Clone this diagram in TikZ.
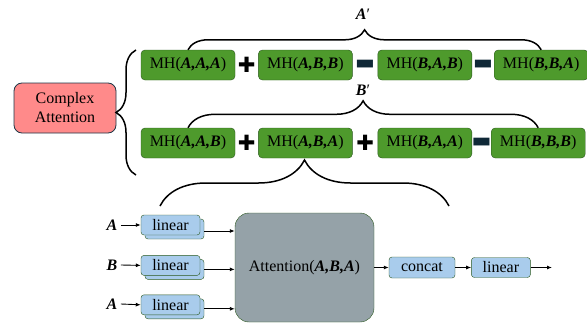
\documentclass[tikz,border=0pt]{standalone}
\usepackage{fontspec}
\setmainfont{Liberation Serif}
\newfontfamily\symfont{DejaVu Sans}
\usepackage{xcolor}
\usetikzlibrary{arrows.meta,positioning,calc,shadows,decorations.pathreplacing}

\definecolor{mhgreen}{RGB}{78,154,44}
\definecolor{mhdark}{RGB}{42,88,30}
\definecolor{linblue}{RGB}{169,204,236}
\definecolor{cplxpink}{RGB}{255,138,138}
\definecolor{cplxdark}{RGB}{30,55,70}
\definecolor{attgray}{RGB}{149,162,168}
\definecolor{minusnavy}{RGB}{15,40,55}

\newcommand{\bi}[1]{\textbf{\textit{#1}}}

\begin{document}
\begin{tikzpicture}[
    x=1pt, y=-1pt,
    >={Latex[length=5pt,width=4pt]},
    node distance=23pt,
    every node/.style={font=\fontsize{16}{19}\selectfont},
    mh/.style={rounded corners=4pt, draw=mhdark, fill=mhgreen, minimum width=94pt, minimum height=30pt, inner sep=0pt},
    linbox/.style={rounded corners=3pt, draw=mhdark, fill=linblue, minimum width=59pt, minimum height=20pt, inner sep=0pt},
    plusop/.style={font=\symfont\bfseries\fontsize{21}{21}\selectfont, inner sep=0pt},
    minusop/.style={font=\symfont\fontsize{21}{21}\selectfont, text=minusnavy, inner sep=0pt},
    brc/.style={decorate, line width=1.5pt},
    arr/.style={->, line width=0.9pt}
]
\useasboundingbox (0,0) rectangle (587,324);

% complex attention
\node[rounded corners=8pt, draw=cplxdark, thick, fill=cplxpink, align=center, minimum width=102pt, minimum height=50pt] (cplx) at (65,108) {Complex\\Attention};
\draw[brc, decoration={brace, amplitude=20pt}] (136,175) -- (136,50);

% first row: A'
\node[mh] (r1a) at (188,65) {MH(\bi{A,A,A})};
\node[mh, right=of r1a] (r1b) {MH(\bi{A,B,B})};
\node[mh, right=25pt of r1b] (r1c) {MH(\bi{B,A,B})};
\node[mh, right=22pt of r1c] (r1d) {MH(\bi{B,B,A})};
\node[plusop] (o1a) at ($(r1a.east)!0.5!(r1b.west)$) {✚};
\node[minusop] (o1b) at ($(r1b.east)!0.5!(r1c.west)$) {▬};
\node[minusop] (o1c) at ($(r1c.east)!0.5!(r1d.west)$) {▬};
\draw[brc, decoration={brace, amplitude=20pt}] (r1a.north) -- (r1d.north);
\node (aprime) at (363,14) {\bi{A}′};

% second row: B'
\node[mh] (r2a) at (188,143) {MH(\bi{A,A,B})};
\node[mh, right=of r2a] (r2b) {MH(\bi{A,B,A})};
\node[mh, right=25pt of r2b] (r2c) {MH(\bi{B,A,A})};
\node[mh, right=19pt of r2c] (r2d) {MH(\bi{B,B,B})};
\node[plusop] (o2a) at ($(r2a.east)!0.5!(r2b.west)$) {✚};
\node[plusop] (o2b) at ($(r2b.east)!0.5!(r2c.west)$) {✚};
\node[minusop] (o2c) at ($(r2c.east)!0.5!(r2d.west)$) {▬};
\draw[brc, decoration={brace, amplitude=27pt}] (r2a.north) -- (r2d.north);
\node (bprime) at (363,90) {\bi{B}′};

% expansion of MH(A,B,A)
\draw[brc, decoration={brace, amplitude=46pt}] (160,206) -- (449,206);

\node[linbox, copy shadow={shadow xshift=4pt, shadow yshift=-4pt}] (lin1) at (170.5,225) {linear};
\node[linbox, copy shadow={shadow xshift=4pt, shadow yshift=-4pt}, below=20pt of lin1] (lin2) {linear};
\node[linbox, copy shadow={shadow xshift=4pt, shadow yshift=-4pt}, below=19pt of lin2] (lin3) {linear};

\node (in1) at (112,225) {\bi{A}};
\node (in2) at (112,265) {\bi{B}};
\node (in3) at (112,304) {\bi{A}};

\node[rounded corners=14pt, draw=mhdark, fill=attgray, minimum width=139pt, minimum height=109pt] (att) at (304.5,267.5) {Attention(\bi{A,B,A})};
\node[linbox, minimum width=66pt, minimum height=21pt] (concat) at (422,267.5) {concat};
\node[linbox, right=16pt of concat] (linout) {linear};
\coordinate (out) at (552,267.5);

\draw[arr] (in1.east) -- (lin1.west);
\draw[arr] (in2.east) -- (lin2.west);
\draw[arr] (in3.east) -- (lin3.west);
\draw[arr] ([xshift=4pt,yshift=-6pt]lin1.east) -- ($(lin1.east -| att.west)+(0,-6pt)$);
\draw[arr] ([xshift=4pt,yshift=-4pt]lin2.east) -- ($(lin2.east -| att.west)+(0,-4pt)$);
\draw[arr] ([xshift=4pt,yshift=-4pt]lin3.east) -- ($(lin3.east -| att.west)+(0,-4pt)$);
\draw[arr] (att.east) -- (concat.west);
\draw[arr] (concat.east) -- (linout.west);
\draw[arr] (linout.east) -- (out);

\end{tikzpicture}
\end{document}
